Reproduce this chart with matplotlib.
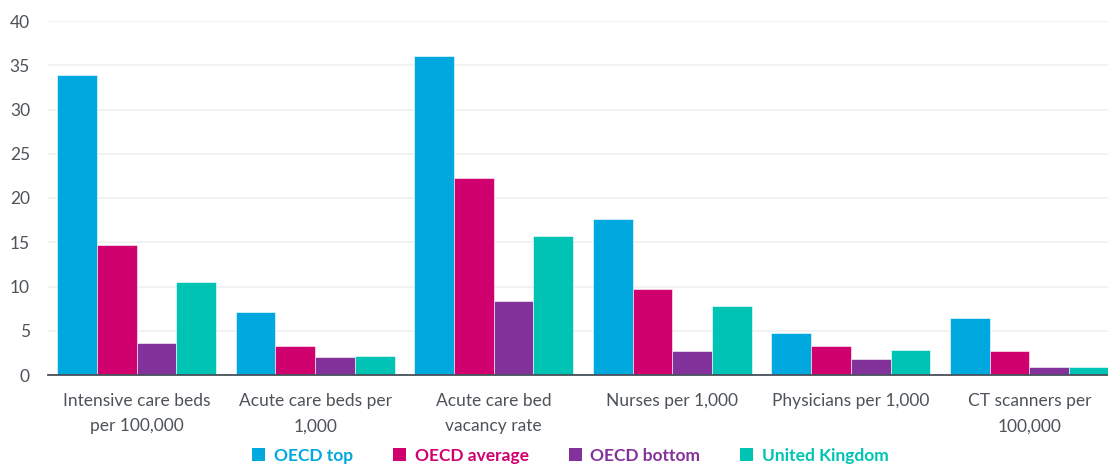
import matplotlib
matplotlib.use('Agg')
import matplotlib.pyplot as plt
import numpy as np
from matplotlib.patches import Patch

categories = ['Intensive care beds\nper 100,000', 'Acute care beds per\n1,000',
              'Acute care bed\nvacancy rate', 'Nurses per 1,000',
              'Physicians per 1,000', 'CT scanners per\n100,000']
series_names = ['OECD top', 'OECD average', 'OECD bottom', 'United Kingdom']
oecd_top = [33.9, 7.1, 36.0, 17.6, 4.7, 6.4]
oecd_average = [14.7, 3.3, 22.3, 9.75, 3.25, 2.7]
oecd_bottom = [3.6, 2.0, 8.4, 2.7, 1.85, 0.87]
united_kingdom = [10.5, 2.1, 15.7, 7.8, 2.8, 0.95]
y_ticks = [0, 5, 10, 15, 20, 25, 30, 35, 40]

colors = ['#00a8e0', '#d1006f', '#84329b', '#00c4b3']

plt.rcParams['font.family'] = ['Lato', 'DejaVu Sans']

fig = plt.figure(figsize=(11.08, 4.68), dpi=100)
ax = fig.add_axes([48 / 1108, 93 / 468, 1 - 48 / 1108, 354 / 468])

x = np.arange(len(categories))
width = 0.2225
all_series = [oecd_top, oecd_average, oecd_bottom, united_kingdom]
for i, vals in enumerate(all_series):
    ax.bar(x + (i - 1.5) * width, vals, width, color=colors[i],
           edgecolor='white', linewidth=0.4, zorder=3)

ax.set_ylim(0, 40)
ax.set_xlim(-0.496, 5.44)
ax.set_yticks(y_ticks)
ax.set_xticks(x)
ax.set_xticklabels(categories, linespacing=1.7)
ax.yaxis.grid(True, color='#f0f0f0', linewidth=1.2, zorder=0)
for s in ['top', 'right', 'left']:
    ax.spines[s].set_visible(False)
ax.spines['bottom'].set_color('#46505a')
ax.spines['bottom'].set_linewidth(1.3)
ax.spines['bottom'].set_zorder(4)
ax.tick_params(axis='both', length=0, labelsize=12.5, colors='#4d5359')
ax.tick_params(axis='y', pad=13)
ax.tick_params(axis='x', pad=13)

handles = [Patch(facecolor=c, edgecolor='none') for c in colors]
leg = fig.legend(handles, series_names, loc='center', bbox_to_anchor=(0.515, 0.026),
                 ncol=4, frameon=False, handlelength=0.75, handleheight=0.75,
                 handletextpad=0.5, columnspacing=2.3, borderpad=0.1,
                 prop={'weight': 'bold', 'size': 12.5})
for t, c in zip(leg.get_texts(), colors):
    t.set_color(c)

fig.savefig('out.png', dpi=100)
